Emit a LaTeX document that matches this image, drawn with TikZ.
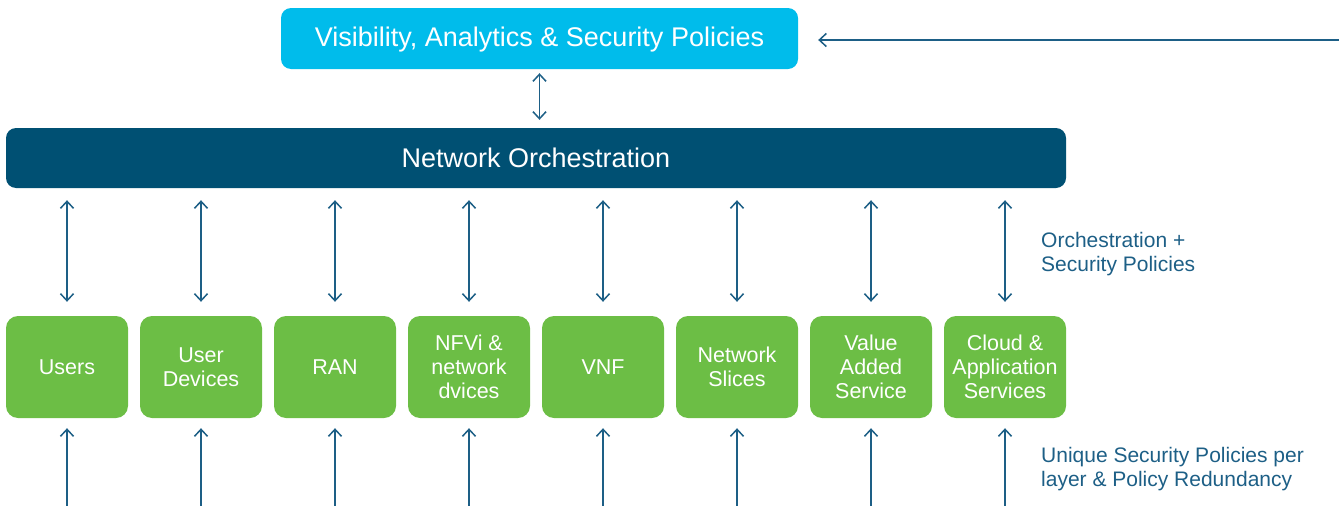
\documentclass[tikz,border=0pt]{standalone}
\usepackage{fontspec}
\setmainfont{Liberation Sans}
\usetikzlibrary{arrows.meta}
\definecolor{topcyan}{HTML}{00BCEB}
\definecolor{orchblue}{HTML}{005073}
\definecolor{layergreen}{HTML}{6CBE45}
\definecolor{linkblue}{HTML}{1D5F86}
\tikzset{
  layer/.style = {fill = layergreen, rounded corners = 12, minimum width = 122, minimum height = 102,
    text = white, align = center, font = \fontsize{21.5}{24}\selectfont, inner sep = 0},
  link/.style = {draw = linkblue, line width = 1.5, arrows = {Straight Barb[length = 7, width = 13]-Straight Barb[length = 7, width = 13]}},
  feed/.style = {draw = linkblue, line width = 1.5, arrows = {-Straight Barb[length = 7, width = 13]}},
  note/.style = {text = linkblue, align = left, anchor = west, font = \fontsize{21}{24}\selectfont, inner sep = 0}
}
\begin{document}
\begin{tikzpicture}[x = 1pt, y = -1pt]
\useasboundingbox (0, 0) rectangle (1339, 506);
\node [fill = topcyan, rounded corners = 10, minimum width = 517, minimum height = 61, text = white, text depth = 3, font = \fontsize{27}{30}\selectfont] (vasp) at (539.5, 38.5) {Visibility, Analytics \& Security Policies};
\node [fill = orchblue, rounded corners = 10, minimum width = 1060, minimum height = 60, text = white, font = \fontsize{27}{30}\selectfont] (orch) at (536, 158) {Network Orchestration};
\coordinate (feedin) at (1339, 40);
\draw [feed] (feedin) -- (feedin -| vasp.east) [shorten > = 20];
\draw [link, shorten < = 4, shorten > = 8] (vasp.south) -- (vasp.south |- orch.north);
\foreach \i/\x/\txt in {1/67/Users, 2/201/User\\Devices, 3/335/RAN, 4/469/NFVi \&\\network\\dvices, 5/603/VNF, 6/737/Network\\Slices, 7/871/Value\\Added\\Service, 8/1005/Cloud \&\\Application\\Services}{
  \node [layer] (b\i) at (\x, 367) {\txt};
  \coordinate (in\i) at (\x, 506);
  \draw [link, shorten < = 12, shorten > = 14] (b\i.north |- orch.south) -- (b\i.north);
  \draw [feed, shorten > = 10] (in\i) -- (b\i.south);
}
\node [note] (orchnote) at (1041, 254) {Orchestration +\\Security Policies};
\node [note] (uniqnote) at (1041, 469) {Unique Security Policies per\\layer \& Policy Redundancy};
\end{tikzpicture}
\end{document}
